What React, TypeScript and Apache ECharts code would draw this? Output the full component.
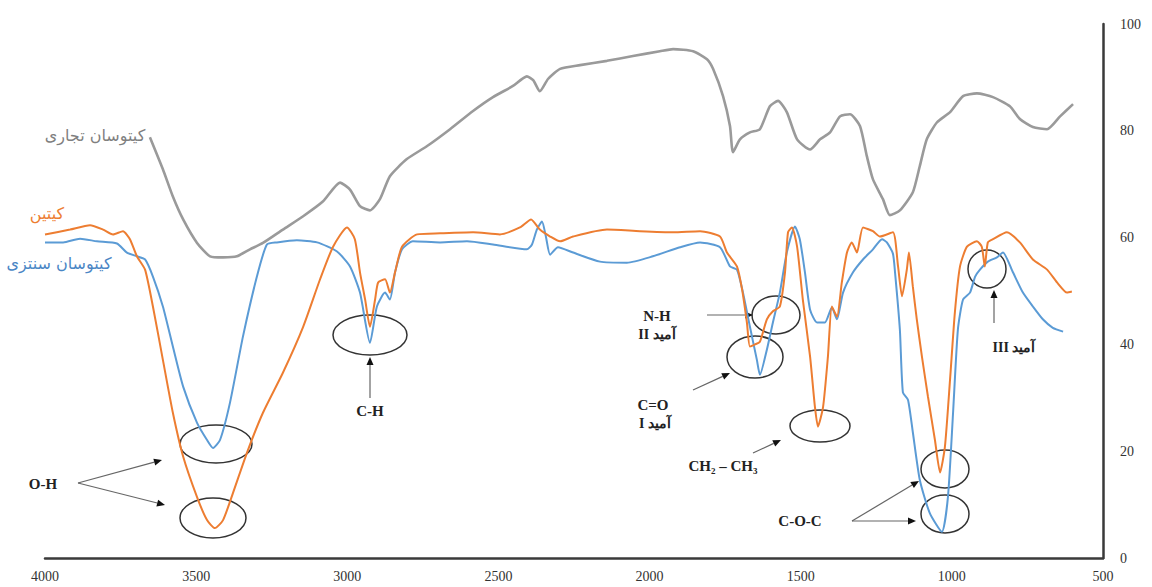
import React, { useEffect, useRef } from "react";
import * as echarts from "echarts";

// Wavenumber axis ticks (cm-1) and transmittance ticks (%)
const xTickMin = 500;
const xTickMax = 4000;
const yTickMin = 0;
const yTickMax = 100;

// Commercial chitosan (grey)
const commercialWn = [3653, 3610, 3577, 3543, 3497, 3454, 3411, 3365, 3322, 3279, 3213, 3146, 3080, 3024, 2991, 2958, 2925, 2892, 2859, 2803, 2737, 2660, 2584, 2518, 2452, 2406, 2385, 2363, 2336, 2296, 2230, 2141, 2055, 1966, 1922, 1856, 1810, 1790, 1757, 1734, 1724, 1701, 1668, 1635, 1602, 1575, 1546, 1512, 1469, 1436, 1403, 1370, 1337, 1304, 1281, 1261, 1228, 1205, 1172, 1129, 1106, 1083, 1049, 1006, 963, 917, 864, 808, 775, 732, 685, 642, 599];
const commercialT = [78.8, 72.8, 67.7, 63.4, 59, 56.5, 56.3, 56.5, 57.8, 59, 61.5, 64, 66.8, 70.3, 69, 65.9, 65.1, 67.2, 71.5, 74.7, 77.1, 80.3, 83.7, 86.3, 88.4, 90.2, 89.5, 87.4, 89.7, 91.6, 92.3, 93.1, 94, 94.9, 95.3, 94.9, 93.4, 91.6, 86.5, 80.9, 76, 78.4, 79.7, 80.3, 84.6, 85.6, 83.5, 78.4, 76.5, 78.4, 79.7, 82.7, 83.1, 80.9, 75.2, 70.9, 67.2, 64.2, 65.1, 68.5, 73.4, 78.4, 81.6, 83.5, 86.5, 87, 86.3, 84.6, 82.2, 80.7, 80.3, 82.7, 85];

// Chitin (orange)
const chitinWn = [4000, 3917, 3851, 3808, 3775, 3742, 3719, 3696, 3669, 3643, 3610, 3577, 3543, 3497, 3464, 3438, 3411, 3378, 3332, 3279, 3213, 3146, 3090, 3047, 3001, 2975, 2958, 2941, 2925, 2908, 2898, 2875, 2859, 2842, 2819, 2769, 2693, 2584, 2495, 2429, 2392, 2363, 2329, 2296, 2253, 2141, 2032, 1922, 1833, 1767, 1744, 1711, 1694, 1678, 1668, 1651, 1635, 1612, 1592, 1569, 1552, 1542, 1529, 1512, 1493, 1469, 1453, 1443, 1426, 1410, 1397, 1380, 1364, 1347, 1331, 1314, 1294, 1261, 1238, 1195, 1178, 1165, 1149, 1142, 1129, 1116, 1099, 1079, 1056, 1039, 1023, 1006, 990, 973, 950, 917, 901, 891, 881, 864, 818, 775, 732, 685, 652, 619, 603];
const chitinT = [60.6, 61.5, 62.3, 61.5, 60.6, 61.2, 59.7, 56.5, 54, 47.1, 37.1, 27.2, 19, 11.4, 7.1, 5.6, 7.1, 12.2, 19.7, 27.2, 34.7, 43.3, 52.2, 58.3, 61.9, 59.7, 53.5, 48.4, 43.3, 48.4, 51.6, 52.2, 49.7, 53.5, 58.3, 60.6, 60.8, 61, 60.6, 61.9, 63.4, 61.5, 60.2, 59.3, 60.2, 61.5, 61.2, 61, 61.2, 60.2, 57.2, 54.6, 50.3, 44.1, 39.6, 40, 40.5, 44.7, 46.2, 47.1, 53.5, 61, 61.9, 58.3, 48.4, 37.7, 28.3, 24.6, 28.3, 37.7, 47.1, 45.2, 51.6, 57.2, 59.1, 57.2, 61.9, 61.2, 60.2, 61, 54.6, 49, 54, 57.2, 50.8, 44.7, 37.7, 30.2, 22.1, 16, 20.8, 33.4, 46, 54.6, 58.3, 59.3, 58.3, 54.6, 59.1, 59.7, 61, 59.1, 55.9, 54, 51.6, 49.7, 49.9];

// Synthesized chitosan (blue)
const synthWn = [4000, 3940, 3884, 3828, 3762, 3729, 3696, 3669, 3643, 3610, 3577, 3543, 3497, 3464, 3444, 3421, 3388, 3345, 3299, 3266, 3233, 3167, 3100, 3034, 2991, 2958, 2925, 2902, 2875, 2859, 2842, 2819, 2783, 2693, 2604, 2518, 2406, 2389, 2373, 2356, 2343, 2329, 2303, 2253, 2164, 2075, 1989, 1899, 1833, 1767, 1734, 1711, 1691, 1668, 1645, 1635, 1612, 1592, 1569, 1546, 1519, 1503, 1486, 1469, 1446, 1420, 1397, 1380, 1360, 1327, 1294, 1261, 1231, 1215, 1195, 1188, 1172, 1162, 1145, 1129, 1106, 1073, 1033, 1013, 996, 980, 963, 940, 923, 907, 881, 851, 831, 798, 765, 732, 699, 666, 632];
const synthT = [59.1, 59.1, 59.8, 59.3, 58.9, 57.2, 56.5, 55.9, 52.7, 47.1, 39.6, 32.1, 25.3, 22.1, 20.6, 22.1, 29.1, 41.5, 52.7, 58.7, 59.1, 59.5, 59.1, 57.4, 54.6, 49.7, 40.3, 47.1, 49.7, 48.4, 53.5, 57.8, 59.3, 59.1, 59.3, 58.7, 57.8, 58.7, 61.5, 63, 60.2, 56.8, 58.2, 57.2, 55.5, 55.3, 56.5, 58.2, 59.1, 58.2, 54.6, 54, 49.7, 43.3, 37.1, 34.3, 39, 44.1, 49.7, 57.2, 62.1, 59.7, 53.5, 46.5, 44.1, 44.1, 46.9, 44.7, 49.7, 53.5, 55.9, 57.8, 59.7, 59.1, 57, 53.5, 42.8, 31, 29.6, 23.5, 14.6, 8.4, 4.9, 11.4, 27.2, 42.8, 48.4, 49.7, 52.7, 54, 55.5, 56.3, 57.2, 53.5, 49.7, 47.1, 44.7, 43.1, 42.4];

const seriesNames = ["کیتوسان تجاری", "کیتین", "کیتوسان سنتزی"];

const INK = "#222222";

function arrow(x1: number, y1: number, x2: number, y2: number) {
  const dx = x2 - x1;
  const dy = y2 - y1;
  const len = Math.sqrt(dx * dx + dy * dy);
  const ux = dx / len;
  const uy = dy / len;
  const hl = 8;
  const hw = 3.5;
  const bx = x2 - ux * hl;
  const by = y2 - uy * hl;
  return [
    {
      type: "line",
      shape: { x1, y1, x2: bx, y2: by },
      style: { stroke: "#666", lineWidth: 1.2 },
    },
    {
      type: "polygon",
      shape: {
        points: [
          [x2, y2],
          [bx - uy * hw, by + ux * hw],
          [bx + uy * hw, by - ux * hw],
        ],
      },
      style: { fill: "#111", stroke: "none" },
    },
  ];
}

function ellipse(cx: number, cy: number, rx: number, ry: number) {
  return {
    type: "ellipse",
    shape: { cx, cy, rx, ry },
    style: { fill: "none", stroke: "#333", lineWidth: 1.5 },
  };
}

function label(text: string, x: number, y: number, size = 15) {
  return {
    type: "text",
    x,
    y,
    style: {
      text,
      font: `bold ${size}px "Liberation Serif", "DejaVu Serif", serif`,
      fill: INK,
      textAlign: "center",
      textVerticalAlign: "middle",
    },
  };
}

function seriesLabel(text: string, x: number, y: number, color: string) {
  return {
    type: "text",
    x,
    y,
    style: {
      text,
      font: `16px "DejaVu Sans", "Noto Sans", sans-serif`,
      fill: color,
      textAlign: "center",
      textVerticalAlign: "middle",
    },
  };
}

export default function App() {
  const ref = useRef<HTMLDivElement>(null);

  useEffect(() => {
    if (!ref.current) return;
    const chart = echarts.init(ref.current, null, { renderer: "svg" });
    const pairs = (w: number[], t: number[]) => w.map((x, i) => [x, t[i]]);

    const graphics: any[] = [
      // series labels
      seriesLabel(seriesNames[0], 95, 135, "#7f7f7f"),
      seriesLabel(seriesNames[1], 47, 213, "#ED7D31"),
      seriesLabel(seriesNames[2], 59, 263, "#4a86c5"),
      // O-H
      ellipse(216, 444, 36, 19),
      ellipse(213, 518, 33, 20),
      label("O-H", 43, 484),
      ...arrow(78, 483, 162, 460),
      ...arrow(78, 483, 165, 505),
      // C-H
      ellipse(370, 335, 37, 20),
      ...arrow(370, 398, 370, 357),
      label("C-H", 370, 411),
      // N-H amide II
      ellipse(776, 315, 24, 19),
      ...arrow(707, 315, 753, 315),
      label("N-H", 657, 316),
      label("II آمید", 657, 334, 14),
      // C=O amide I
      ellipse(755, 357, 28, 21),
      ...arrow(693, 390, 730, 373),
      label("C=O", 653, 405),
      label("I آمید", 655, 423, 14),
      // CH2 - CH3
      ellipse(820, 426, 30, 16),
      ...arrow(753, 453, 781, 440),
      label("CH₂ – CH₃", 723, 466),
      // C-O-C
      ellipse(945, 469, 24, 19),
      ellipse(945, 514, 24, 19),
      ...arrow(852, 521, 919, 481),
      ...arrow(852, 521, 916, 521),
      label("C-O-C", 800, 521),
      // amide III
      ellipse(987, 269, 19, 19),
      ...arrow(994, 323, 994, 290),
      label("III آمید", 1014, 347, 14),
    ];

    chart.setOption({
      animation: false,
      backgroundColor: "#ffffff",
      grid: { left: 45, right: 49, top: 24, bottom: 29, containLabel: false },
      xAxis: {
        type: "value",
        inverse: true,
        min: xTickMin,
        max: xTickMax,
        interval: 500,
        axisLine: { show: true, lineStyle: { color: "#3a3a3a", width: 2.5 } },
        axisTick: { show: false },
        splitLine: { show: false },
        axisLabel: {
          margin: 11,
          color: "#333",
          fontSize: 14,
          fontFamily: '"Liberation Serif", serif',
          formatter: (v: number) => String(v),
        },
      },
      yAxis: {
        type: "value",
        position: "right",
        min: yTickMin,
        max: yTickMax,
        interval: 20,
        axisLine: { show: true, lineStyle: { color: "#3a3a3a", width: 2.5 } },
        axisTick: { show: false },
        splitLine: { show: false },
        axisLabel: {
          margin: 17,
          color: "#333",
          fontSize: 14,
          fontFamily: '"Liberation Serif", serif',
          formatter: (v: number) => String(v),
        },
      },
      series: [
        {
          name: seriesNames[2],
          type: "line",
          data: pairs(synthWn, synthT),
          showSymbol: false,
          smooth: 0.2,
          lineStyle: { color: "#5B9BD5", width: 2 },
          z: 2,
        },
        {
          name: seriesNames[1],
          type: "line",
          data: pairs(chitinWn, chitinT),
          showSymbol: false,
          smooth: 0.2,
          lineStyle: { color: "#ED7D31", width: 2 },
          z: 3,
        },
        {
          name: seriesNames[0],
          type: "line",
          data: pairs(commercialWn, commercialT),
          showSymbol: false,
          smooth: 0.2,
          lineStyle: { color: "#9a9a9a", width: 2.6 },
          z: 2,
        },
      ],
      graphic: graphics,
    });

    return () => chart.dispose();
  }, []);

  return (
    <div
      ref={ref}
      style={{ position: "fixed", left: 0, top: 0, width: 1152, height: 587, background: "#fff" }}
    />
  );
}
